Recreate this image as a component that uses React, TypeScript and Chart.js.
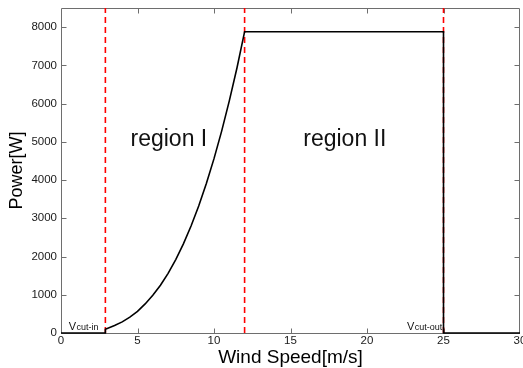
import React, { useEffect, useRef } from 'react';
import { Chart, registerables } from 'chart.js';

Chart.register(...registerables);

// ---- data ----
const windSpeed = [0, 2.9, 2.9, 3.5, 4, 4.5, 5, 5.5, 6, 6.5, 7, 7.5, 8, 8.5, 9, 9.5, 10, 10.5, 11, 11.5, 12, 25, 25, 30];
const power = [0, 0, 100, 195, 290, 415, 565, 760, 985, 1250, 1560, 1920, 2330, 2800, 3320, 3910, 4560, 5280, 6070, 6930, 7880, 7880, 0, 0];
const boundarySpeeds = [2.9, 12, 25];
const xTicks = [0, 5, 10, 15, 20, 25, 30];
const yTicks = [0, 1000, 2000, 3000, 4000, 5000, 6000, 7000, 8000];
const xMin = 0;
const xMax = 30;
const yMin = 0;
const yMax = 8500;
const regionLabels = ['region I', 'region II'];
const regionLabelX = [7.05, 18.55];
const regionLabelY = [4890, 4900];
const speedLabels = ['cut-in', 'cut-out'];
const speedLabelX = [2.45, 24.92];
const speedLabelY = [90, 90];

const FONT = "'Liberation Sans', Arial, Helvetica, sans-serif";
const BOX = '#6e6e6e';
const TEXT = '#1a1a1a';

const decor = {
  id: 'decor',
  beforeDatasetsDraw(chart: any) {
    const { ctx, chartArea: a, scales } = chart;
    const x = scales.x;
    const y = scales.y;
    const L = Math.round(a.left) + 0.5;
    const R = Math.round(a.right) - 0.5;
    const T = Math.round(a.top) + 0.5;
    const B = Math.round(a.bottom) + 0.5;
    ctx.save();
    ctx.strokeStyle = BOX;
    ctx.lineWidth = 1;
    ctx.setLineDash([]);
    ctx.beginPath();
    ctx.rect(L, T, R - L, B - T);
    const tl = 5;
    xTicks.forEach((v) => {
      if (v === xMin || v === xMax) return;
      const px = Math.round(x.getPixelForValue(v)) + 0.5;
      ctx.moveTo(px, B);
      ctx.lineTo(px, B - tl);
      ctx.moveTo(px, T);
      ctx.lineTo(px, T + tl);
    });
    yTicks.forEach((v) => {
      if (v === yMin || v === yMax) return;
      const py = Math.round(y.getPixelForValue(v)) + 0.5;
      ctx.moveTo(L, py);
      ctx.lineTo(L + tl, py);
      ctx.moveTo(R, py);
      ctx.lineTo(R - tl, py);
    });
    ctx.stroke();
    ctx.restore();
  },
  afterDatasetsDraw(chart: any) {
    const { ctx, scales } = chart;
    const x = scales.x;
    const y = scales.y;
    ctx.save();
    ctx.fillStyle = '#111';
    ctx.textBaseline = 'alphabetic';
    ctx.textAlign = 'center';
    ctx.font = `23px ${FONT}`;
    regionLabels.forEach((t, i) => {
      ctx.fillText(t, x.getPixelForValue(regionLabelX[i]), y.getPixelForValue(regionLabelY[i]));
    });
    speedLabels.forEach((t, i) => {
      ctx.font = `9px ${FONT}`;
      const subW = ctx.measureText(t).width;
      ctx.font = `11px ${FONT}`;
      const vW = ctx.measureText('V').width;
      const right = x.getPixelForValue(speedLabelX[i]);
      const base = y.getPixelForValue(speedLabelY[i]);
      ctx.textAlign = 'left';
      ctx.fillText('V', right - subW - vW - 0.5, base);
      ctx.font = `9px ${FONT}`;
      ctx.fillText(t, right - subW, base);
    });
    ctx.restore();
  },
};

export default function App() {
  const ref = useRef<HTMLCanvasElement>(null);
  useEffect(() => {
    document.body.style.margin = '0';
    const curve = windSpeed.map((v, i) => ({ x: v, y: power[i] }));
    const boundaryDatasets = boundarySpeeds.map((b) => ({
      data: [
        { x: b, y: yMin },
        { x: b, y: yMax },
      ],
      borderColor: 'rgb(255, 0, 0)',
      backgroundColor: 'rgb(255, 0, 0)',
      borderWidth: 1.6,
      borderDash: [6, 4],
      pointRadius: 0,
      tension: 0,
      fill: false,
      clip: false as any,
    }));
    const chart = new Chart(ref.current as HTMLCanvasElement, {
      type: 'line',
      data: {
        datasets: [
          {
            data: curve,
            borderColor: '#000000',
            backgroundColor: '#000000',
            borderWidth: 1.6,
            pointRadius: 0,
            tension: 0,
            fill: false,
            clip: false as any,
          },
          ...boundaryDatasets,
        ],
      },
      options: {
        animation: false,
        responsive: false,
        events: [],
        layout: { padding: { left: 0, right: 3, top: 8, bottom: 0 } },
        plugins: { legend: { display: false }, tooltip: { enabled: false } },
        scales: {
          x: {
            type: 'linear',
            min: xMin,
            max: xMax,
            grid: { display: false, drawTicks: false },
            border: { display: false },
            afterBuildTicks: (s: any) => {
              s.ticks = xTicks.map((v) => ({ value: v }));
            },
            afterFit: (s: any) => {
              s.height = 35;
              s.paddingLeft = 0;
              s.paddingRight = 0;
            },
            ticks: {
              padding: 1,
              color: TEXT,
              maxRotation: 0,
              autoSkip: false,
              font: { family: FONT, size: 11.5 },
              callback: (v: any) => String(v),
            },
            title: {
              display: true,
              text: 'Wind Speed[m/s]',
              color: '#000',
              font: { family: FONT, size: 19, lineHeight: 1 },
              padding: { top: 0, bottom: 1 },
            },
          },
          y: {
            type: 'linear',
            min: yMin,
            max: yMax,
            grid: { display: false, drawTicks: false },
            border: { display: false },
            afterBuildTicks: (s: any) => {
              s.ticks = yTicks.map((v) => ({ value: v }));
            },
            afterFit: (s: any) => {
              s.width = 61;
              s.paddingTop = 0;
              s.paddingBottom = 0;
            },
            ticks: {
              padding: 4,
              color: TEXT,
              autoSkip: false,
              font: { family: FONT, size: 11.5 },
              callback: (v: any) => String(v),
            },
            title: {
              display: true,
              text: 'Power[W]',
              color: '#000',
              font: { family: FONT, size: 18, lineHeight: 1 },
              padding: { top: 8, bottom: 0 },
            },
          },
        },
      },
      plugins: [decor],
    });
    return () => chart.destroy();
  }, []);
  return (
    <div style={{ position: 'fixed', left: 0, top: 0, width: 523, height: 368, background: '#fff', overflow: 'hidden' }}>
      <canvas ref={ref} width={523} height={368} style={{ display: 'block', width: 523, height: 368 }} />
    </div>
  );
}
